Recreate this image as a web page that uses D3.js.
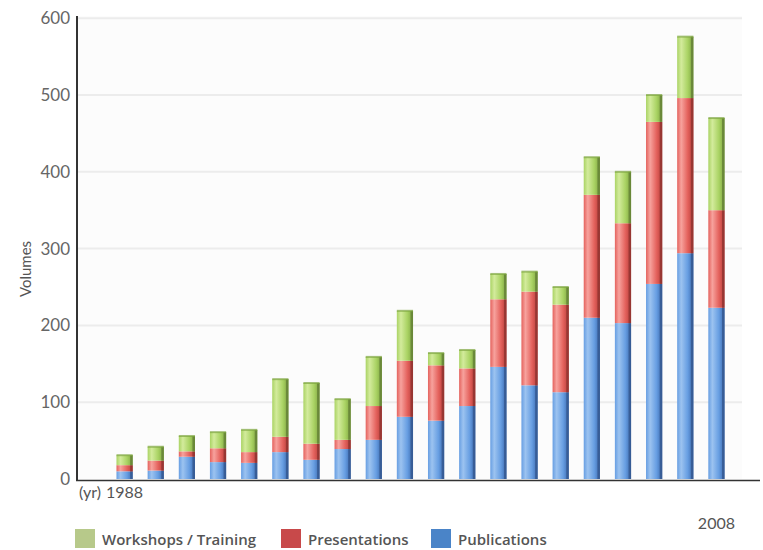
<!DOCTYPE html>
<html>
<head>
<meta charset="utf-8">
<script src="https://cdn.jsdelivr.net/npm/d3@7/dist/d3.min.js"></script>
<style>
  body { margin: 0; background: #fff; }
  .chart { font-family: Lato, "Open Sans", sans-serif; }
</style>
</head>
<body>
<div class="chart"></div>
<script>
// values (volumes per year)
const years = ["1988","1989","1990","1991","1992","1993","1994","1995","1996","1997",
               "1998","1999","2000","2001","2002","2003","2004","2005","2006","2007"];
const publications  = [10, 11, 29, 22, 21, 35, 25, 39, 51, 81, 76, 95, 146, 122, 113, 210, 203, 254, 294, 223];
const presentations = [ 8, 13,  7, 18, 14, 20, 21, 12, 44, 73, 72, 49,  88, 122, 114, 160, 130, 211, 202, 127];
const workshops     = [13, 18, 20, 21, 29, 75, 79, 53, 64, 65, 16, 24,  33,  26,  23,  49,  67,  35,  80, 120];
const yTicks = [0, 100, 200, 300, 400, 500, 600];
const seriesKeys = ["publications", "presentations", "workshops"];
const legendItems = [
  { key: "workshops", label: "Workshops / Training" },
  { key: "presentations", label: "Presentations" },
  { key: "publications", label: "Publications" }
];
const firstLabel = "1988", lastLabel = "2008";

const w = 763, h = 550;
const colors = {
  publications:  { light: "#9cc3f0", base: "#679ee2", dark: "#3a68ad", edge: "#34588f", legend: "#4a84c8" },
  presentations: { light: "#f7a29d", base: "#e4625d", dark: "#b53c38", edge: "#8f3330", legend: "#c8494a" },
  workshops:     { light: "#d3eb9c", base: "#aad364", dark: "#7ea540", edge: "#637f36", legend: "#b7c98a" }
};

const table = years.map((yr, i) => ({
  year: yr,
  publications: publications[i],
  presentations: presentations[i],
  workshops: workshops[i]
}));

const svg = d3.select(".chart").append("svg")
  .attr("width", w).attr("height", h);

const defs = svg.append("defs");
seriesKeys.forEach(k => {
  const c = colors[k];
  const g = defs.append("linearGradient").attr("id", "grad-" + k)
    .attr("x1", 0).attr("x2", 1).attr("y1", 0).attr("y2", 0);
  g.append("stop").attr("offset", "0%").attr("stop-color", c.base);
  g.append("stop").attr("offset", "25%").attr("stop-color", c.light);
  g.append("stop").attr("offset", "65%").attr("stop-color", c.base);
  g.append("stop").attr("offset", "100%").attr("stop-color", c.dark);
});

const x = d3.scaleBand()
  .domain(years)
  .range([109, 732])
  .paddingInner(0.48)
  .paddingOuter(0.24);

const y = d3.scaleLinear()
  .domain([0, 600])
  .range([479, 18.2]);

// plot background + grid
svg.append("rect")
  .attr("x", 78).attr("y", 16).attr("width", 664).attr("height", 463)
  .attr("fill", "#fcfcfc");

svg.append("g")
  .selectAll("line")
  .data(yTicks.filter(d => d > 0))
  .enter()
  .append("line")
  .attr("x1", 78).attr("x2", 742)
  .attr("y1", d => y(d)).attr("y2", d => y(d))
  .attr("stroke", "#ececec")
  .attr("stroke-width", 2);

// y axis
const yAxis = svg.append("g")
  .attr("transform", "translate(77,0)")
  .call(d3.axisLeft(y).tickValues(yTicks).tickSize(0).tickPadding(7));
yAxis.select(".domain").remove();
yAxis.selectAll("text")
  .attr("font-family", "Lato, 'Open Sans', sans-serif")
  .attr("font-size", 17)
  .attr("fill", "#666");

svg.append("line")
  .attr("x1", 77).attr("x2", 77).attr("y1", 16).attr("y2", 481)
  .attr("stroke", "#333").attr("stroke-width", 2);
svg.append("line")
  .attr("x1", 76).attr("x2", 760).attr("y1", 480.5).attr("y2", 480.5)
  .attr("stroke", "#333").attr("stroke-width", 1.5);

svg.append("text")
  .attr("transform", "translate(31,269) rotate(-90)")
  .attr("text-anchor", "middle")
  .attr("font-size", 15)
  .attr("fill", "#555")
  .text("Volumes");

// stacked bars
const stacked = d3.stack().keys(seriesKeys)(table);
const bw = x.bandwidth();

const layers = svg.append("g").selectAll("g")
  .data(stacked)
  .enter()
  .append("g");

layers.selectAll("rect.seg")
  .data(d => d.map(p => ({ key: d.key, p: p })))
  .enter()
  .append("rect")
  .attr("class", "seg")
  .attr("x", d => x(d.p.data.year))
  .attr("y", d => y(d.p[1]))
  .attr("width", bw)
  .attr("height", d => y(d.p[0]) - y(d.p[1]))
  .attr("fill", d => "url(#grad-" + d.key + ")");

// darker side strip for the 3D look
layers.selectAll("rect.side")
  .data(d => d.map(p => ({ key: d.key, p: p })))
  .enter()
  .append("rect")
  .attr("class", "side")
  .attr("x", d => x(d.p.data.year) + bw - 2.5)
  .attr("y", d => y(d.p[1]))
  .attr("width", 2.5)
  .attr("height", d => y(d.p[0]) - y(d.p[1]))
  .attr("fill", d => colors[d.key].edge)
  .attr("opacity", 0.8);

// top cap of each bar
svg.append("g").selectAll("rect")
  .data(table)
  .enter()
  .append("rect")
  .attr("x", d => x(d.year))
  .attr("y", d => y(d.publications + d.presentations + d.workshops) - 1)
  .attr("width", bw)
  .attr("height", 2)
  .attr("fill", colors.workshops.dark)
  .attr("opacity", 0.7);

// year labels
svg.append("text")
  .attr("x", 79).attr("y", 498)
  .attr("font-size", 16).attr("fill", "#555")
  .text("(yr)");
svg.append("text")
  .attr("x", x(years[0]) + bw / 2).attr("y", 498)
  .attr("text-anchor", "middle")
  .attr("font-size", 16).attr("fill", "#555")
  .text(firstLabel);
svg.append("text")
  .attr("x", x(years[years.length - 1]) + bw / 2).attr("y", 529)
  .attr("text-anchor", "middle")
  .attr("font-size", 16).attr("fill", "#555")
  .text(lastLabel);

// legend
const legendX = [75, 281, 431];
const legend = svg.append("g").selectAll("g")
  .data(legendItems)
  .enter()
  .append("g")
  .attr("transform", (d, i) => "translate(" + legendX[i] + ",529)");
legend.append("rect")
  .attr("width", 20).attr("height", 19)
  .attr("fill", d => colors[d.key].legend);
legend.append("text")
  .attr("x", 27).attr("y", 16)
  .attr("font-family", "'Open Sans', Lato, sans-serif")
  .attr("font-size", 15)
  .attr("font-weight", 600)
  .attr("fill", "#555")
  .text(d => d.label);
</script>
</body>
</html>
